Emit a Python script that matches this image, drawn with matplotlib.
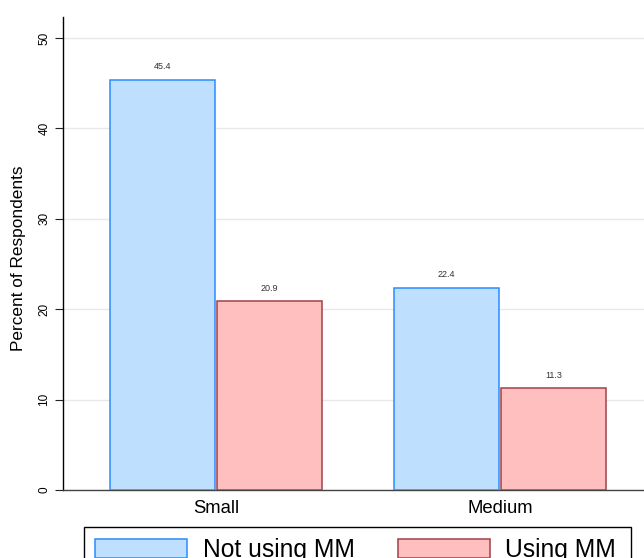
import matplotlib
matplotlib.use("Agg")
import matplotlib.pyplot as plt
from matplotlib.patches import Rectangle
import numpy as np

plt.rcParams['font.family'] = ['Liberation Sans', 'DejaVu Sans']

categories = ["Small", "Medium"]
series_names = ["Not using MM", "Using MM"]
not_using = [45.4, 22.4]
using = [20.9, 11.3]
yticks = [0, 10, 20, 30, 40, 50]

fig = plt.figure(figsize=(6.44, 5.58), dpi=100)
ax = fig.add_axes([63/644, 68/558, 1 - 63/644, (490 - 17)/558])

x = np.arange(len(categories))
w = 0.37
off = 0.1885
b1 = ax.bar(x - off, not_using, width=w, color="#bfdfff", edgecolor="#2b8cff", linewidth=1.1,
            label=series_names[0], zorder=3)
b2 = ax.bar(x + off, using, width=w, color="#ffbfbf", edgecolor="#a0404c", linewidth=1.1,
            label=series_names[1], zorder=3)

for bars, vals in ((b1, not_using), (b2, using)):
    for r, v in zip(bars, vals):
        ax.annotate(f"{v:.1f}", (r.get_x() + r.get_width()/2, v), xytext=(0, 6),
                    textcoords="offset points", ha="center", va="bottom",
                    fontsize=6.5, color="#333333")

ax.set_xlim(-0.5387, 1.507)
ax.set_ylim(0, (490 - 17) / 9.04)
ax.set_yticks(yticks)
ax.set_yticklabels([str(t) for t in yticks], rotation=90, va="center", fontsize=8.5)
ax.set_xticks(x)
ax.set_xticklabels(categories, fontsize=13.3)
ax.tick_params(axis="x", length=0, pad=7)
ax.tick_params(axis="y", length=6, width=0.8, pad=3, color="#222222")
ax.set_ylabel("Percent of Respondents", fontsize=12.4)
ax.yaxis.set_label_coords(-0.063, 0.49)

ax.grid(axis="y", color="#e8e8e8", linewidth=1.0, zorder=0)
ax.set_axisbelow(True)
for s in ("top", "right"):
    ax.spines[s].set_visible(False)
ax.spines["left"].set_color("black")
ax.spines["left"].set_linewidth(1.0)
ax.spines["bottom"].set_color("#444444")
ax.spines["bottom"].set_linewidth(1.0)

leg = fig.legend(handles=[b1, b2], labels=series_names, loc="upper left",
                 bbox_to_anchor=(84/644, 1 - 527/558), ncol=2, fontsize=17.7,
                 frameon=False,
                 handlelength=3.74, handleheight=0.82, handletextpad=0.64,
                 columnspacing=1.75, borderpad=0.45, borderaxespad=0)

frame = Rectangle((84/644, -0.05), (631 - 84)/644, 0.05 + (558 - 527)/558,
                  transform=fig.transFigure, fill=False, edgecolor="black",
                  linewidth=1.0, zorder=1)
fig.add_artist(frame)

fig.savefig("out.png", dpi=100)
